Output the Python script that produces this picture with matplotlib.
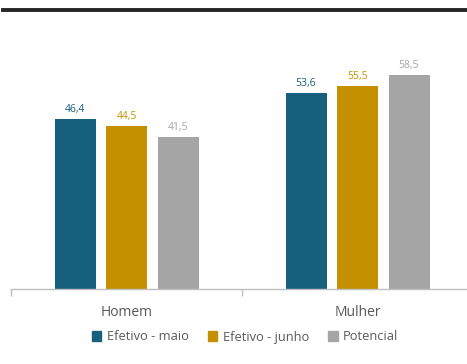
import numpy as np
import matplotlib
matplotlib.use("Agg")
import matplotlib.pyplot as plt
from matplotlib.patches import Patch

categories = ["Homem", "Mulher"]
series = ["Efetivo - maio", "Efetivo - junho", "Potencial"]
efetivo_maio = [46.4, 53.6]
efetivo_junho = [44.5, 55.5]
potencial = [41.5, 58.5]
colors = ["#17607D", "#C59000", "#A5A5A5"]

plt.rcParams["font.family"] = ["Open Sans", "DejaVu Sans"]

W, H = 467, 364
fig = plt.figure(figsize=(W / 100, H / 100), dpi=100)

# axes spans x 11..473 px, y 33..289 px
ax = fig.add_axes([11 / W, (H - 289) / H, 462 / W, 256 / H])
ax.set_xlim(0, 2)
ax.set_ylim(0, 70)

x = np.arange(len(categories)) + 0.5
width = 41 / 231
step = 51.5 / 231
for i, (vals, col) in enumerate(zip([efetivo_maio, efetivo_junho, potencial], colors)):
    pos = x + (i - 1) * step
    ax.bar(pos, vals, width=width, color=col, zorder=2)
    for p, v in zip(pos, vals):
        ax.text(p, v + 1.2, f"{v:.1f}".replace(".", ","), ha="center", va="bottom",
                fontsize=7.5, color=col)

for s in ["top", "right", "left"]:
    ax.spines[s].set_visible(False)
ax.spines["bottom"].set_color("#BFBFBF")
ax.spines["bottom"].set_linewidth(1)
ax.set_yticks([])
ax.set_xticks([0, 1, 2])
ax.set_xticklabels([])
ax.tick_params(axis="x", length=5, color="#BFBFBF", width=1)
for xc, name in zip(x, categories):
    ax.text(xc, -4.5, name, ha="center", va="top", fontsize=10, color="#595959")

handles = [Patch(color=c, label=s) for c, s in zip(colors, series)]
fig.legend(handles=handles, loc="center", bbox_to_anchor=(245 / W, (H - 337) / H), ncol=3,
           frameon=False, fontsize=9.3, handlelength=0.75, handleheight=0.75,
           handletextpad=0.4, columnspacing=1.5, labelcolor="#595959")

# heavy rule along the top
fig.add_artist(plt.Line2D([3 / W, 1], [(H - 10) / H] * 2, color="#262626", linewidth=2.8))

fig.savefig("out.png", dpi=100)
